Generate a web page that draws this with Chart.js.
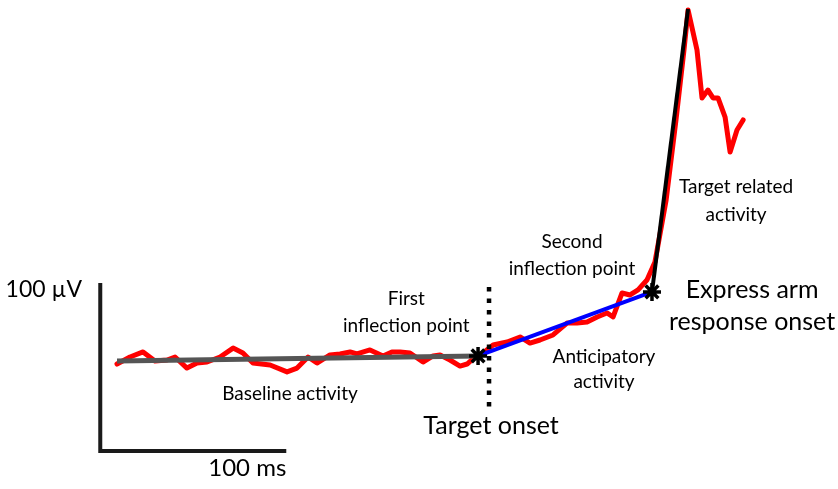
<!DOCTYPE html>
<html>
<head>
<meta charset="utf-8">
<script src="https://cdn.jsdelivr.net/npm/chart.js@4.4.1/dist/chart.umd.min.js"></script>
<style>
  html, body { margin: 0; padding: 0; background: #fff; }
  #wrap { width: 838px; height: 489px; }
</style>
</head>
<body>
<div id="wrap"><canvas id="trace" width="838" height="489"></canvas></div>
<script>
// EMG trace: time in ms from target onset, amplitude in µV above baseline
const traceTime = [
  -200.0, -193.0, -186.0, -179.6, -173.1, -168.8, -162.4, -157.0, -151.6, -144.6,
  -137.6, -132.3, -126.9, -117.7, -108.6, -103.2, -97.3, -92.5, -85.5, -80.1,
  -74.7, -71.0, -64.0, -57.0, -52.2, -47.8, -42.5, -35.5, -30.1, -26.3,
  -21.0, -15.6, -11.8, -7.5, -3.2, 2.2, 9.7, 16.7, 22.0, 27.4,
  34.4, 41.9, 47.3, 52.7, 58.1, 63.4, 66.7, 71.5, 75.8, 80.1,
  84.9, 89.2, 95.2, 100.5, 104.8, 107.0, 111.8, 114.5, 117.7, 120.4,
  123.1, 126.9, 129.6, 133.3, 136.6
];
const traceAmp = [
  -2.4, 1.8, 4.8, -0.6, 0.0, 1.8, -4.8, -1.8, -1.2, 1.8,
  7.1, 4.2, -1.8, -3.0, -7.1, -4.8, 1.8, -1.8, 3.0, 3.6,
  4.8, 3.6, 6.0, 2.4, 4.8, 4.8, 4.2, -1.2, 2.4, 3.0,
  0.0, -3.6, -2.4, 1.8, 4.2, 8.9, 10.7, 13.7, 10.1, 11.9,
  14.9, 22.0, 22.0, 22.6, 25.6, 28.0, 25.6, 39.9, 38.7, 41.7,
  47.6, 58.3, 95.2, 142.9, 184.5, 208.3, 184.5, 156.0, 160.7, 156.0,
  156.0, 144.6, 123.8, 136.9, 142.9
];

// piecewise fit: baseline, anticipatory ramp, target related rise
const baselineTime = [-200.0, -5.9];
const baselineAmp = [-0.6, 2.4];
const rampTime = [-5.9, 87.6];
const rampAmp = [2.4, 40.5];
const riseTime = [87.6, 107.0];
const riseAmp = [40.5, 208.9];

// inflection points (asterisks)
const inflectTime = [-5.9, 87.6];
const inflectAmp = [2.4, 40.5];

// dotted target onset marker
const onsetTime = [0, 0];
const onsetAmp = [43.5, -29.8];

// scale bar
const scaleMs = 100;
const scaleUv = 100;
const scaleCorner = [-209, -54.2];

const X_MIN = -262.9, X_MAX = 187.6;
const Y_MIN = -76.8, Y_MAX = 214.3;

const pts = (xs, ys) => xs.map((x, i) => ({ x, y: ys[i] }));

const FONT = 'Lato, "Open Sans", sans-serif';

// text labels, anchored in ms / µV
const LABELS = [
  { lines: ['100 µV'], x: -218.8, y: 41.7, size: 23, lead: 0, align: 'right' },
  { lines: ['100 ms'], x: scaleCorner[0] + scaleMs, y: -64.3, size: 24, lead: 0, align: 'right' },
  { lines: ['Baseline activity'], x: -107.0, y: -20.2, size: 19, lead: 0 },
  { lines: ['First', 'inflection point'], x: -44.5, y: 36.3, size: 19, lead: 27 },
  { lines: ['Target onset'], x: 1.1, y: -39.3, size: 25, lead: 0 },
  { lines: ['Second', 'inflection point'], x: 44.6, y: 70.2, size: 19, lead: 27 },
  { lines: ['Anticipatory', 'activity'], x: 61.8, y: 1.8, size: 19, lead: 25 },
  { lines: ['Target related', 'activity'], x: 132.8, y: 103.0, size: 19, lead: 28 },
  { lines: ['Express arm', 'response onset'], x: 141.4, y: 41.7, size: 25, lead: 32 }
];

const labelPlugin = {
  id: 'traceLabels',
  afterDatasetsDraw(chart) {
    const { ctx, scales: { x, y } } = chart;
    ctx.save();
    ctx.fillStyle = '#000';
    ctx.textBaseline = 'middle';
    LABELS.forEach(l => {
      ctx.font = `${l.size}px ${FONT}`;
      ctx.textAlign = l.align || 'center';
      const px = x.getPixelForValue(l.x);
      const py = y.getPixelForValue(l.y);
      l.lines.forEach((t, i) => ctx.fillText(t, px, py + i * l.lead));
    });
    ctx.restore();
  }
};

const line = (data, color, width, order, extra) => Object.assign({
  data,
  showLine: true,
  borderColor: color,
  backgroundColor: color,
  borderWidth: width,
  pointRadius: 0,
  tension: 0,
  clip: false,
  order
}, extra || {});

new Chart(document.getElementById('trace'), {
  type: 'scatter',
  data: {
    datasets: [
      line(pts(traceTime, traceAmp), '#ff0000', 5, 6, { borderJoinStyle: 'round', borderCapStyle: 'round' }),
      line(pts(baselineTime, baselineAmp), '#555555', 5, 4),
      line(pts(rampTime, rampAmp), '#0000ff', 4, 3),
      line(pts(riseTime, riseAmp), '#000000', 4, 3),
      line(pts(onsetTime, onsetAmp), '#000000', 4.5, 2, { borderDash: [4.5, 7], borderCapStyle: 'butt' }),
      line([
        { x: scaleCorner[0], y: scaleCorner[1] + scaleUv },
        { x: scaleCorner[0], y: scaleCorner[1] },
        { x: scaleCorner[0] + scaleMs, y: scaleCorner[1] }
      ], '#1a1a1a', 4, 2, { borderJoinStyle: 'miter' }),
      {
        data: pts(inflectTime, inflectAmp),
        showLine: false,
        pointStyle: 'star',
        pointRadius: 9,
        pointBorderWidth: 3.5,
        pointBorderColor: '#000',
        pointBackgroundColor: '#000',
        clip: false,
        order: 0
      }
    ]
  },
  options: {
    responsive: false,
    animation: false,
    events: [],
    layout: { padding: 0, autoPadding: false },
    plugins: { legend: { display: false }, tooltip: { enabled: false } },
    scales: {
      x: { type: 'linear', display: false, min: X_MIN, max: X_MAX },
      y: { type: 'linear', display: false, min: Y_MIN, max: Y_MAX }
    }
  },
  plugins: [labelPlugin]
});
</script>
</body>
</html>
